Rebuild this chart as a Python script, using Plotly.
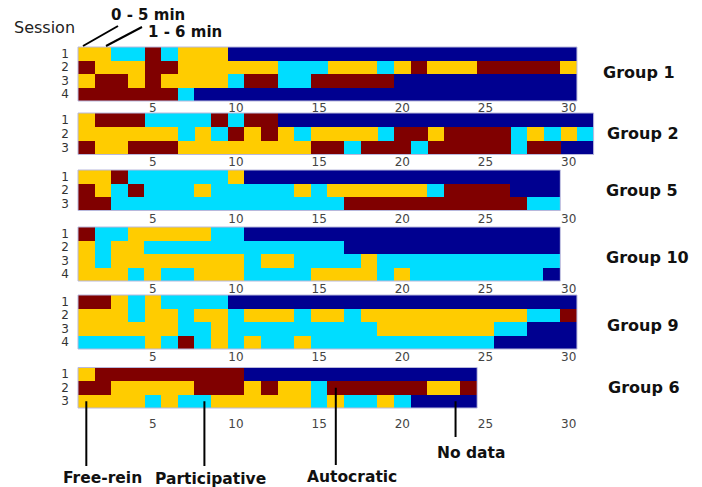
import plotly.graph_objects as go

# Codes: F = Free-rein, P = Participative, A = Autocratic, N = No data
group_names = ["Group 1", "Group 2", "Group 5", "Group 10", "Group 9", "Group 6"]

group_1 = [
    "FFPPAPFFFNNNNNNNNNNNNNNNNNNNNN",
    "AFFFAAFFFFFFPPPFFFPFAFFFAAAAAF",
    "FAAFAFFFFPAAPPAAAAANNNNNNNNNNN",
    "AAAAAAPNNNNNNNNNNNNNNNNNNNNNNN",
]
group_2 = [
    "FAAAPPPPAPAANNNNNNNNNNNNNNNNNNN",
    "FFFFFFPFPAFAFPFFFFPAAFAAAAPFPFP",
    "AFFAAAFFFFFFFFAAPAAAPAAAAAPAANN",
]
group_5 = [
    "FFAPPPPPPFNNNNNNNNNNNNNNNNNNN",
    "AFPAPPPFPPPPPFPFFFFFFPAAAANNN",
    "AAPPPPPPPPPPPPPPAAAAAAAAAAAPP",
]
group_10 = [
    "APPFFFFFPPNNNNNNNNNNNNNNNNNNN",
    "FPFFPPPPPPPPPPPPNNNNNNNNNNNNN",
    "FPFFFFFFFFPFFPPPPFPPPPPPPPPPP",
    "FFFPFPPFFFPPPPFFFFPFPPPPPPPPN",
]
group_9 = [
    "AAFPFPPPPNNNNNNNNNNNNNNNNNNNNN",
    "FFFPFFPFFPFFFPFFPFFFFFFFFFFPPA",
    "FFFFFFPPFPPPPPPPPPFFFFFFFPPNNN",
    "PPPPFPAPFPFPPFPPPPPPPPPPPNNNNN",
]
group_6 = [
    "FAAAAAAAAANNNNNNNNNNNNNN",
    "AAFFFFFAAAFAFFPAAAAAAFFA",
    "FFFFPFPPFFFFFFPFPPFPNNNN",
]
groups = [group_1, group_2, group_5, group_10, group_9, group_6]

code_value = {"F": 0, "P": 1, "A": 2, "N": 3}
styles = ["Free-rein", "Participative", "Autocratic", "No data"]
colors = ["#FFCC00", "#00DDFF", "#800000", "#000090"]
x_ticks = [5, 10, 15, 20, 25, 30]

W, H = 702, 487
X0, X1 = 78, 593.6  # pixel extent of the x range [0.5, 31.5]
panel_px = [(47, 101), (113, 154.5), (170, 210.5), (227, 281), (295, 349), (367.5, 408)]
label_standoff = [-2, -2, -1, -1, -1, 7]
label_pos_px = [(639, 73), (643, 133), (642, 190), (647, 257), (643, 325), (644, 387)]

cs = [[0, colors[0]], [1/6, colors[0]], [1/6, colors[1]], [1/2, colors[1]],
      [1/2, colors[2]], [5/6, colors[2]], [5/6, colors[3]], [1, colors[3]]]

fig = go.Figure()
xdom = [X0 / W, X1 / W]
XR = [0.5, 31.5]


def add_text(x_px, y_px, text, size, bold=True, color="#111111"):
    fig.add_annotation(
        x=x_px / W, y=1 - y_px / H, xref="paper", yref="paper",
        xanchor="center", yanchor="middle",
        text=f"<b>{text}</b>" if bold else text, showarrow=False,
        font=dict(family="DejaVu Sans", size=size, color=color),
    )


for i, rows in enumerate(groups):
    n = len(rows)
    ncol = len(rows[0])
    z = [[code_value[c] for c in r] for r in rows]
    text = [[styles[code_value[c]] for c in r] for r in rows]
    xa = "x" if i == 0 else f"x{i+1}"
    ya = "y" if i == 0 else f"y{i+1}"
    fig.add_trace(go.Heatmap(
        z=z, x=list(range(1, ncol + 1)), y=list(range(1, n + 1)),
        colorscale=cs, zmin=0, zmax=3, showscale=False, text=text,
        hovertemplate="Session %{y}, interval %{x}: %{text}<extra></extra>",
        xaxis=xa, yaxis=ya,
    ))
    top, bot = panel_px[i]
    ydom = [1 - bot / H, 1 - top / H]
    key = "" if i == 0 else str(i + 1)
    fig.layout["xaxis" + key] = dict(
        domain=xdom, range=XR, tickvals=x_ticks, showgrid=False, zeroline=False,
        anchor="y" + key, ticks="", ticklabelstandoff=label_standoff[i],
        tickfont=dict(family="DejaVu Sans", size=12, color="#444444"),
        showline=False, fixedrange=True,
    )
    fig.layout["yaxis" + key] = dict(
        domain=ydom, range=[n + 0.5, 0.5], tickvals=list(range(1, n + 1)),
        showgrid=False, zeroline=False, anchor="x" + key, ticks="",
        ticklabelstandoff=8,
        tickfont=dict(family="DejaVu Sans", size=12, color="#333333"),
        fixedrange=True,
    )
    add_text(label_pos_px[i][0], label_pos_px[i][1], group_names[i], 16)

# Panel outlines
for i, rows in enumerate(groups):
    top, bot = panel_px[i]
    ncol = len(rows[0])
    xr = X0 + ncol * (X1 - X0) / 31
    fig.add_shape(type="rect", xref="paper", yref="paper",
                  x0=X0 / W, x1=xr / W, y0=1 - bot / H, y1=1 - top / H,
                  line=dict(color="#b8b8dc", width=1))


def px_to_paper(px, py):
    return px / W, 1 - py / H


# Top-left labels
add_text(45, 28, "Session", 16, bold=False, color="#222222")
add_text(148, 15, "0 - 5 min", 15)
add_text(185, 32, "1 - 6 min", 15)
for (a, b), (c, d) in [((83, 46), (118, 26)), ((106, 46), (142, 27))]:
    p0 = px_to_paper(a, b); p1 = px_to_paper(c, d)
    fig.add_shape(type="line", xref="paper", yref="paper", x0=p0[0], y0=p0[1], x1=p1[0], y1=p1[1],
                  line=dict(color="black", width=2))

# Bottom legend labels with leader lines pointing into Group 6
g6_top, g6_bot = panel_px[5]
row_h = (g6_bot - g6_top) / 3
legend_points = [  # (label, column, session row, line end px, text x px, text y px)
    ("Free-rein", 1, 3, 466, 102, 478),
    ("Participative", 8.1, 3, 466, 210, 479),
    ("Autocratic", 16, 2, 465, 352, 477),
    ("No data", 23.2, 3, 437, 471, 453),
]
for lab, cx, ry, yend, tx, ty in legend_points:
    xpx = X0 + (cx - 0.5) * (X1 - X0) / 31
    ypx = g6_top + (ry - 0.5) * row_h
    fig.add_shape(type="line", xref="paper", yref="paper",
                  x0=xpx / W, x1=xpx / W, y0=1 - ypx / H, y1=1 - yend / H,
                  line=dict(color="black", width=2))
    add_text(tx, ty, lab, 15.5)

fig.update_layout(
    width=W, height=H, margin=dict(l=0, r=0, t=0, b=0),
    paper_bgcolor="white", plot_bgcolor="white", showlegend=False,
)
fig.write_html("out.html")
